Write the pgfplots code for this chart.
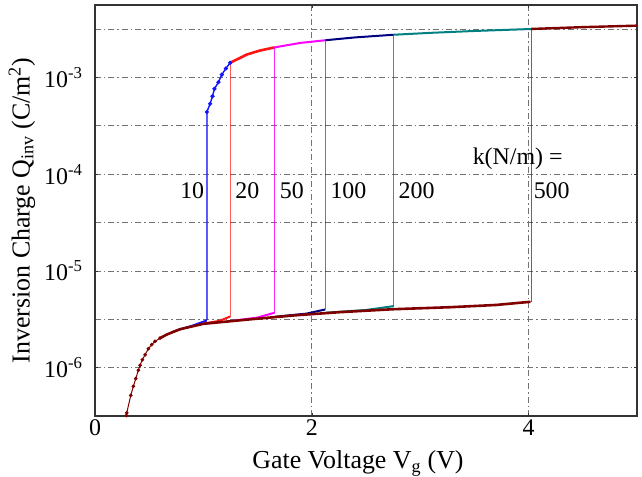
\documentclass[border=0pt]{standalone}
\usepackage{fontspec}
\setmainfont{Liberation Serif}
\usepackage{pgfplots}
\pgfplotsset{compat=1.18}
\usetikzlibrary{calc}

\definecolor{kten}{RGB}{20,20,255}
\definecolor{ktwenty}{RGB}{255,20,20}
\definecolor{kfifty}{RGB}{255,0,255}
\definecolor{khund}{RGB}{0,0,128}
\definecolor{ktwohund}{RGB}{0,128,128}
\definecolor{kfivehund}{RGB}{128,0,0}
\definecolor{gridc}{gray}{0.45}

\pgfplotsset{
  curve/.style={line width=2bp, no marks},
  jump/.style={line width=1.3bp, no marks, opacity=.7},
}

\begin{document}
\begin{tikzpicture}
\begin{axis}[
  name=ax,
  width=542bp, height=411bp, scale only axis,
  xmin=0, xmax=5,
  ymode=log, ymin=3.1623e-7, ymax=5.6234e-3,
  xtick={0,2,4}, xticklabels={0,2,4},
  ytick={1e-6,1e-5,1e-4,1e-3},
  yticklabels={10\textsuperscript{-6},10\textsuperscript{-5},10\textsuperscript{-4},10\textsuperscript{-3}},
  minor ytick={3.1623e-6,3.1623e-5,3.1623e-4,3.1623e-3},
  grid=both,
  major grid style={gridc, line width=.8bp, dash pattern=on 6bp off 3bp on 1.5bp off 3bp},
  minor grid style={gridc, line width=.8bp, dash pattern=on 6bp off 3bp on 1.5bp off 3bp},
  axis line style={black!80, line width=1.3bp},
  major tick length=3bp, minor tick length=0pt,
  tick style={black!80, line width=.6bp},
  tick label style={font=\fontsize{24}{28}\selectfont},
  yticklabel style={xshift=-9bp},
  label style={font=\fontsize{26}{30}\selectfont},
  xlabel={Gate Voltage V\textsubscript{g} (V)},
  ylabel={Inversion Charge Q\textsubscript{inv} (C/m\textsuperscript{2})},
  xlabel style={yshift=-8bp, xshift=-8bp},
  ylabel style={yshift=2bp},
]
% k = 10
\addplot[curve, kten] coordinates {(0.72,2.36e-6)(0.90,2.72e-6)(1.032,3.08e-6)};
\addplot[jump, kten] coordinates {(1.032,3.08e-6)(1.032,4.4e-4)};
\addplot[kten, line width=1.4bp, mark=*, mark size=1.3bp] coordinates {
  (1.032,4.4e-4)(1.062,5.36e-4)(1.084,6.41e-4)(1.102,7.65e-4)
  (1.139,8.95e-4)(1.170,1.07e-3)(1.207,1.24e-3)(1.247,1.42e-3)};
% k = 20
\addplot[curve, ktwenty] coordinates {(1.00,2.86e-6)(1.15,3.05e-6)(1.247,3.38e-6)};
\addplot[jump, ktwenty] coordinates {(1.247,3.38e-6)(1.247,1.42e-3)};
\addplot[curve, ktwenty, line width=2.6bp] coordinates {
  (1.247,1.42e-3)(1.401,1.73e-3)(1.52,1.90e-3)(1.657,2.05e-3)};
% k = 50
\addplot[curve, kfifty] coordinates {(1.25,3.03e-6)(1.50,3.30e-6)(1.657,3.70e-6)};
\addplot[jump, kfifty, opacity=.85] coordinates {(1.657,3.70e-6)(1.657,2.05e-3)};
\addplot[curve, kfifty] coordinates {
  (1.657,2.05e-3)(1.894,2.28e-3)(2.125,2.43e-3)};
% k = 100
\addplot[curve, khund] coordinates {(1.66,3.36e-6)(1.95,3.62e-6)(2.125,4.00e-6)};
\addplot[jump, khund, opacity=.55] coordinates {(2.125,4.00e-6)(2.125,2.43e-3)};
\addplot[curve, khund] coordinates {
  (2.125,2.43e-3)(2.40,2.60e-3)(2.633,2.71e-3)(2.756,2.77e-3)};
% k = 200
\addplot[curve, ktwohund] coordinates {(2.13,3.70e-6)(2.50,3.95e-6)(2.756,4.33e-6)};
\addplot[jump, ktwohund, opacity=.8] coordinates {(2.756,4.33e-6)(2.756,2.77e-3)};
\addplot[curve, ktwohund] coordinates {
  (2.756,2.77e-3)(3.1,2.90e-3)(3.5,3.03e-3)(4.034,3.18e-3)};
% k = 500
\addplot[kfivehund, line width=1bp, mark=*, mark size=1.3bp] coordinates {
  (0.290,3.20e-7)(0.293,3.41e-7)(0.330,5.18e-7)(0.354,6.41e-7)(0.376,7.71e-7)
  (0.400,9.39e-7)(0.416,1.06e-6)(0.437,1.21e-6)(0.462,1.36e-6)
  (0.492,1.57e-6)(0.524,1.73e-6)(0.554,1.87e-6)(0.600,2.02e-6)};
\addplot[curve, kfivehund, line width=2.6bp] coordinates {
  (0.600,2.02e-6)(0.662,2.20e-6)(0.785,2.50e-6)(1.00,2.84e-6)(1.43,3.16e-6)
  (1.85,3.48e-6)(2.26,3.75e-6)(2.75,4.02e-6)(3.28,4.22e-6)(3.70,4.45e-6)
  (4.018,4.80e-6)};
\addplot[jump, kfivehund] coordinates {(4.025,4.80e-6)(4.025,3.18e-3)};
\addplot[curve, kfivehund, line width=2.4bp] coordinates {
  (4.025,3.18e-3)(4.5,3.32e-3)(5.0,3.44e-3)};

\begin{scope}[font=\fontsize{24}{28}\selectfont]
\node[anchor=west, inner sep=0pt] at (axis cs:0.785,6.8e-5) {10};
\node[anchor=west, inner sep=0pt] at (axis cs:1.293,6.8e-5) {20};
\node[anchor=west, inner sep=0pt] at (axis cs:1.703,6.8e-5) {50};
\node[anchor=west, inner sep=0pt] at (axis cs:2.171,6.8e-5) {100};
\node[anchor=west, inner sep=0pt] at (axis cs:2.799,6.8e-5) {200};
\node[anchor=west, inner sep=0pt] at (axis cs:4.046,6.8e-5) {500};
\node[anchor=west, inner sep=0pt] at (axis cs:3.483,1.43e-4) {k(N/m) =};
\end{scope}
\end{axis}
\pgfresetboundingbox
\path[use as bounding box] ($(ax.south west)+(-95bp,-60bp)$) rectangle ($(ax.north east)+(5bp,5bp)$);
\end{tikzpicture}
\end{document}
